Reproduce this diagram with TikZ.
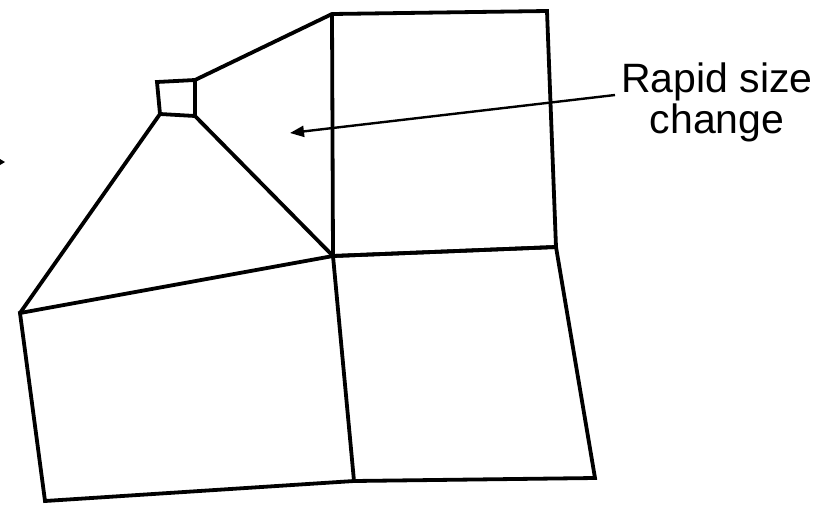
\documentclass[tikz,border=0pt]{standalone}
\usepackage{fontspec}
\setmainfont{Liberation Sans}
\usetikzlibrary{arrows.meta}
\begin{document}
\begin{tikzpicture}[x=1pt,y=-1pt,
  edge/.style={line width=3.8pt,line join=miter,line cap=round},
  pointer/.style={line width=2.4pt,-{Triangle[length=14pt,width=11pt]}},
  lbl/.style={font=\fontsize{41}{41}\selectfont,align=center,inner sep=0pt}]
\useasboundingbox (0,0) rectangle (831,504);
% corners
\coordinate (sq1) at (157,82);
\coordinate (sq2) at (195,80);
\coordinate (sq3) at (195,116);
\coordinate (sq4) at (160,114);
\coordinate (tl) at (332,14);
\coordinate (tr) at (547,11);
\coordinate (c) at (333,256);
\coordinate (mr) at (556,247);
\coordinate (bl0) at (20,313);
\coordinate (bl1) at (45,501);
\coordinate (bm) at (354,481);
\coordinate (br) at (595,478);
% small square
\draw[edge] (sq1) -- (sq2) -- (sq3) -- (sq4) -- cycle;
% top quad
\draw[edge] (sq2) -- (tl) -- (tr) -- (mr) -- (c) -- (tl);
% triangle sides
\draw[edge] (sq4) -- (bl0);
\draw[edge] (sq3) -- (c);
% bottom left quad
\draw[edge] (bl0) -- (c) -- (bm) -- (bl1) -- cycle;
% bottom right quad
\draw[edge] (c) -- (mr) -- (br) -- (bm);
% label and pointer
\node[lbl,anchor=north] (txt) at (717,63) {Rapid size\\change};
\coordinate (pstart) at (615,95);
\coordinate (ptip) at (290,133);
\draw[pointer] (pstart) -- (ptip);
% cut-off arrow tip at left edge
\coordinate (lt) at (5,162);
\fill (0,159) -- (lt) -- (0,165) -- cycle;
\end{tikzpicture}
\end{document}
